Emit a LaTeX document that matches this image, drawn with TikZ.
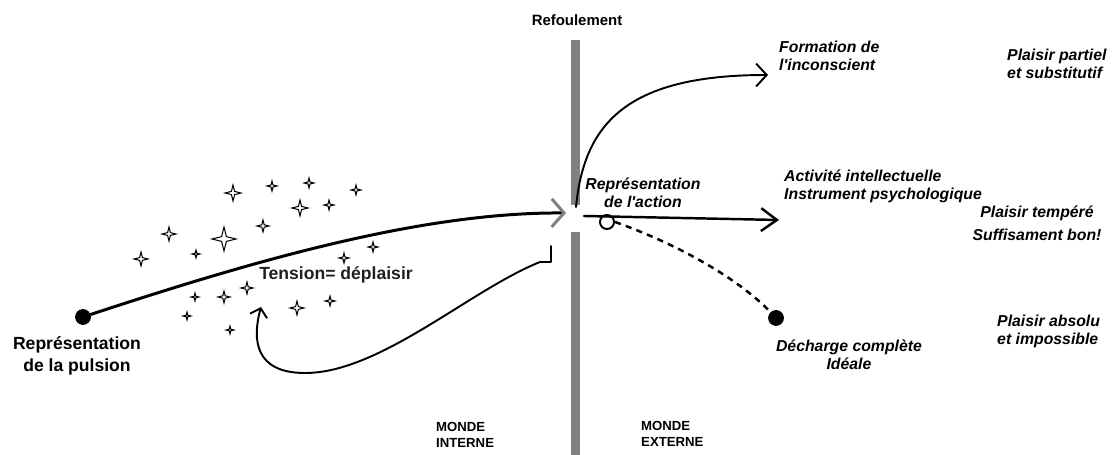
\documentclass[tikz,border=0pt]{standalone}
\usepackage{fontspec}
\setmainfont{Liberation Sans}
\usetikzlibrary{arrows.meta}
\begin{document}
\begin{tikzpicture}[
x=0.02cm, y=-0.02cm,
titre/.style={font=\bfseries\fontsize{10}{12.5}\selectfont, align=center},
effet/.style={font=\bfseries\itshape\fontsize{9}{10.2}\selectfont, align=left},
monde/.style={font=\bfseries\fontsize{7.5}{9}\selectfont, align=left, anchor=west},
point/.style={circle, fill=black, inner sep=0pt, minimum size=9pt},
trait/.style={line width=1.1pt, line cap=round, line join=round},
etoile/.style={line width=0.6pt},
barre/.style={line width=5pt, color=gray}
]
\useasboundingbox (0,0) rectangle (1115,455);
\draw[barre] (575.5,40) -- (575.5,205);
\draw[barre] (575.5,232) -- (575.5,455);
\node[font=\bfseries\fontsize{8.5}{10}\selectfont] (refoul) at (577,20) {Refoulement};
\foreach \x/\y/\r in {233/193/8, 272/186/5, 309/183/5, 356/190/5, 300/208/8, 329/205/5,
169/234/7, 224/239/12, 263/226/6, 141/259/7, 196/254/4, 373/247/5, 344/258/5,
247/288/6, 224/297/6, 195/297/4, 187/316/4, 230/330/4, 297/308/7, 330/301/5}
\draw[etoile, shift={(\x,\y)}] (\r,0) -- (\r/5,\r/5) -- (0,\r) -- (-\r/5,\r/5) -- (-\r,0)
-- (-\r/5,-\r/5) -- (0,-\r) -- (\r/5,-\r/5) -- cycle;
\node[point] (pulsion) at (83,317) {};
\node[titre] (pulsionlbl) at (77,356) {Représentation\\de la pulsion};
\node[titre, text=black!88] (tension) at (336,275) {Tension= déplaisir};
\coordinate (passage) at (566,213);
\coordinate (retour) at (551,246);
\coordinate (cible) at (261,307);
\draw[trait, line width=1.7pt, -{Straight Barb[color=gray, length=7pt, width=16pt, line width=1.7pt]}]
(pulsion) .. controls (250,262) and (420,212) .. (passage);
\draw[trait, -{Straight Barb[length=4.5pt, width=10pt]}] (retour) -- ++(0,16) -- ++(-11,0)
.. controls (470,290) and (380,373) .. (305,373) .. controls (255,373) and (252,340) .. (cible);
\coordinate (depart) at (576,207);
\coordinate (action) at (584,216);
\coordinate (inconscient) at (768,75);
\coordinate (intellect) at (779,220);
\node[circle, draw, line width=1.1pt, inner sep=0pt, minimum size=8pt] (boucle) at (607,222) {};
\node[point] (decharge) at (776,318) {};
\draw[trait, -{Straight Barb[length=6pt, width=13pt]}] (depart) .. controls (584,125) and (625,75) .. (inconscient);
\draw[trait, line width=1.4pt, -{Straight Barb[length=9pt, width=13pt]}] (action) -- (intellect);
\draw[trait, line width=1.4pt, line cap=butt, dash pattern=on 3.5pt off 3pt] (boucle.east)
.. controls (680,245) and (740,280) .. (decharge);
\node[effet, align=center] (repaction) at (643,193) {Représentation\\de l\textquotesingle action};
\node[effet, anchor=west] (formation) at (773,56) {Formation de\\l\textquotesingle inconscient};
\node[effet, anchor=west] (activite) at (778,186) {Activité intellectuelle\\Instrument psychologique};
\node[effet, align=center] (declbl) at (849,355) {Décharge complète\\Idéale};
\node[effet, anchor=west] (partiel) at (1001,64) {Plaisir partiel\\et substitutif};
\node[effet, align=center] (tempere) at (1037,223) {Plaisir tempéré\\[3pt]Suffisament bon!};
\node[effet, anchor=west] (absolu) at (991,331) {Plaisir absolu\\et impossible};
\node[monde] (interne) at (430,435) {MONDE\\INTERNE};
\node[monde] (externe) at (635,434) {MONDE\\EXTERNE};
\end{tikzpicture}
\end{document}
